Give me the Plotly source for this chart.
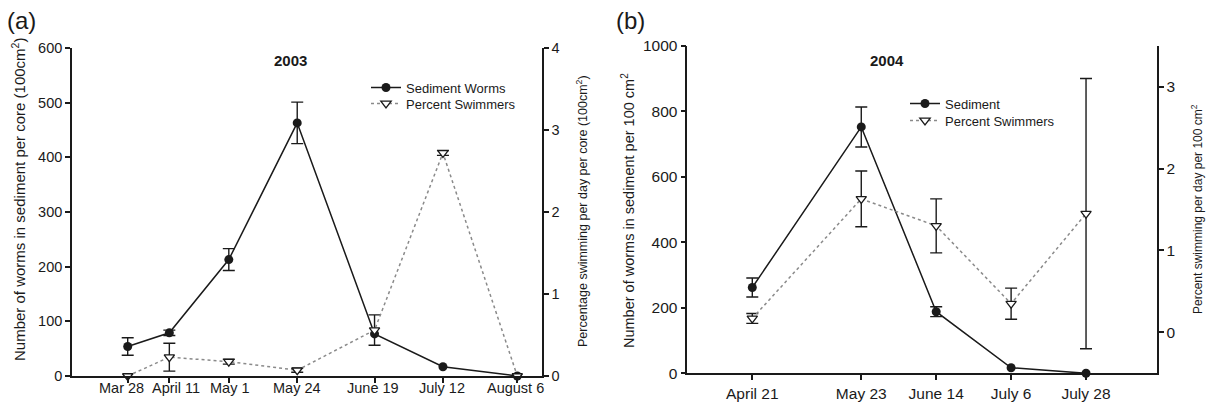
import plotly.graph_objects as go

# ---- 2003 sampling (panel a) ----
dates_2003 = ["2003-03-28", "2003-04-11", "2003-05-01", "2003-05-24",
              "2003-06-19", "2003-07-12", "2003-08-06"]
labels_2003 = ["Mar 28", "April 11", "May 1", "May 24", "June 19", "July 12", "August 6"]
sediment_2003 = [54, 79, 213, 463, 77, 17, 0]
sediment_2003_err = [16, 5, 20, 38, None, None, None]
swimmers_2003 = [0, 0.23, 0.175, 0.07, 0.56, 2.72, 0]
swimmers_2003_err = [None, 0.17, 0.03, 0.025, 0.185, 0.03, None]

# ---- 2004 sampling (panel b) ----
dates_2004 = ["2004-04-21", "2004-05-23", "2004-06-14", "2004-07-06", "2004-07-28"]
labels_2004 = ["April 21", "May 23", "June 14", "July 6", "July 28"]
sediment_2004 = [262, 752, 188, 17, 0]
sediment_2004_err = [29, 61, 15, None, None]
swimmers_2004 = [0.17, 1.63, 1.30, 0.35, 1.45]
swimmers_2004_err = [0.06, 0.34, 0.33, 0.19, 1.65]

FONT = "Liberation Sans, Arial, sans-serif"
INK = "#1a1a1a"
AXW = 1.6
W, H = 1212, 406

# the first two 2003 date labels sit close together, so they are pushed apart
LABEL_NUDGE_2003 = [-6, 7, 1, 0, -2, -1, -2]

fig = go.Figure()


def err_trace(x, y, err, xa, ya):
    """Error bars only (no visible markers) for the points that have one."""
    pts = [(a, b, e) for a, b, e in zip(x, y, err) if e is not None]
    return go.Scatter(
        x=[p[0] for p in pts], y=[p[1] for p in pts],
        mode="markers", marker=dict(size=1, opacity=0),
        error_y=dict(type="data", array=[p[2] for p in pts], visible=True,
                     color=INK, thickness=1.4, width=6),
        xaxis=xa, yaxis=ya, showlegend=False, hoverinfo="skip", cliponaxis=False,
    )


def sediment_trace(x, y, name, xa, ya, legend):
    return go.Scatter(
        x=x, y=y, name=name, mode="lines+markers",
        line=dict(color=INK, width=1.5),
        marker=dict(symbol="circle", size=9, color=INK),
        xaxis=xa, yaxis=ya, legend=legend, cliponaxis=False,
    )


def swimmer_trace(x, y, name, xa, ya, legend):
    return go.Scatter(
        x=x, y=y, name=name, mode="lines+markers",
        line=dict(color="#8a8a8a", width=1.5, dash="dot"),
        marker=dict(symbol="triangle-down", size=9, color="white",
                    line=dict(color=INK, width=1.3)),
        xaxis=xa, yaxis=ya, legend=legend, cliponaxis=False,
    )


# panel (a)
fig.add_trace(err_trace(dates_2003, sediment_2003, sediment_2003_err, "x", "y"))
fig.add_trace(sediment_trace(dates_2003, sediment_2003, "Sediment Worms", "x", "y", "legend"))
fig.add_trace(err_trace(dates_2003, swimmers_2003, swimmers_2003_err, "x", "y2"))
fig.add_trace(swimmer_trace(dates_2003, swimmers_2003, "Percent Swimmers", "x", "y2", "legend2"))

# panel (b)
fig.add_trace(err_trace(dates_2004, sediment_2004, sediment_2004_err, "x2", "y3"))
fig.add_trace(sediment_trace(dates_2004, sediment_2004, "Sediment", "x2", "y3", "legend3"))
fig.add_trace(err_trace(dates_2004, swimmers_2004, swimmers_2004_err, "x2", "y4"))
fig.add_trace(swimmer_trace(dates_2004, swimmers_2004, "Percent Swimmers", "x2", "y4", "legend4"))


def axis(size, **kw):
    base = dict(
        showline=True, linecolor=INK, linewidth=AXW, mirror=False,
        ticks="outside", ticklen=5, tickwidth=AXW, tickcolor=INK,
        showgrid=False, zeroline=False, tickangle=0, automargin=False,
        tickfont=dict(family=FONT, size=size, color=INK),
    )
    base.update(kw)
    return base


def legend_row(x_px, top_px):
    # one legend per row keeps the row spacing tight
    return dict(x=x_px / W, y=1 - top_px / H, xanchor="left", yanchor="top",
                bgcolor="rgba(0,0,0,0)", itemwidth=30, borderwidth=0,
                font=dict(family=FONT, size=13, color=INK))


fig.update_layout(
    template="none",
    width=W, height=H, autosize=False,
    margin=dict(l=0, r=0, t=0, b=0, pad=0, autoexpand=False),
    paper_bgcolor="white", plot_bgcolor="white",
    font=dict(family=FONT, color=INK),
    xaxis=axis(14.5, type="date", domain=[72 / W, 541.7 / W], anchor="y",
               range=["2003-03-09 06:30", "2003-08-14 05:00"],
               tickvals=dates_2003, showticklabels=False),
    yaxis=axis(14.5, domain=[1 - 376 / H, 1 - 48 / H], anchor="x",
               range=[0, 600], tickvals=[0, 100, 200, 300, 400, 500, 600]),
    yaxis2=axis(14.5, overlaying="y", side="right", anchor="x",
                range=[0, 4], tickvals=[0, 1, 2, 3, 4]),
    xaxis2=axis(15.5, type="date", domain=[687.3 / W, 1156.7 / W], anchor="y3",
                range=["2004-04-01 22:00", "2004-08-17 18:00"],
                tickvals=dates_2004, ticktext=labels_2004),
    yaxis3=axis(15.5, domain=[1 - 373.3 / H, 1 - 45.7 / H], anchor="x2",
                range=[0, 1000], tickvals=[0, 200, 400, 600, 800, 1000]),
    yaxis4=axis(15.5, overlaying="y3", side="right", anchor="x2",
                range=[-0.5, 3.5], tickvals=[0, 1, 2, 3]),
    legend=legend_row(366, 72.5),
    legend2=legend_row(366, 88.5),
    legend3=legend_row(905, 88.5),
    legend4=legend_row(905, 105.5),
    showlegend=True,
)

annotations = [
    dict(text="(a)", x=5 / W, y=1 - 21 / H, xanchor="left", yanchor="middle",
         font=dict(size=24)),
    dict(text="(b)", x=614 / W, y=1 - 21 / H, xanchor="left", yanchor="middle",
         font=dict(size=24)),
    dict(text="<b>2003</b>", x=290 / W, y=1 - 60 / H, xanchor="center", yanchor="middle",
         font=dict(size=15)),
    dict(text="<b>2004</b>", x=887 / W, y=1 - 61 / H, xanchor="center", yanchor="middle",
         font=dict(size=15)),
    dict(text="Number of worms in sediment per core (100cm<sup>2</sup>)",
         x=18 / W, y=1 - 200 / H, textangle=-90, xanchor="center", yanchor="middle",
         font=dict(size=15)),
    dict(text="Percentage swimming per day per core (100cm<sup>2</sup>)",
         x=582 / W, y=1 - 211 / H, textangle=-90, xanchor="center", yanchor="middle",
         font=dict(size=12.5)),
    dict(text="Number of worms in sediment per 100 cm<sup>2</sup>",
         x=628 / W, y=1 - 211 / H, textangle=-90, xanchor="center", yanchor="middle",
         font=dict(size=14.5)),
    dict(text="Percent swimming per day per 100 cm<sup>2</sup>",
         x=1197 / W, y=1 - 209 / H, textangle=-90, xanchor="center", yanchor="middle",
         font=dict(size=12)),
]
for a in annotations:
    a.update(xref="paper", yref="paper")

# 2003 date labels, placed on the date axis below each tick
for d, lab, dx in zip(dates_2003, labels_2003, LABEL_NUDGE_2003):
    annotations.append(dict(text=lab, x=d, xref="x", y=1 - 388 / H, yref="paper",
                            xanchor="center", yanchor="middle", xshift=dx,
                            font=dict(size=14.5)))

for a in annotations:
    a.update(showarrow=False)
    a["font"].update(family=FONT, color=INK)
fig.update_layout(annotations=annotations)

fig.write_html("out.html")
